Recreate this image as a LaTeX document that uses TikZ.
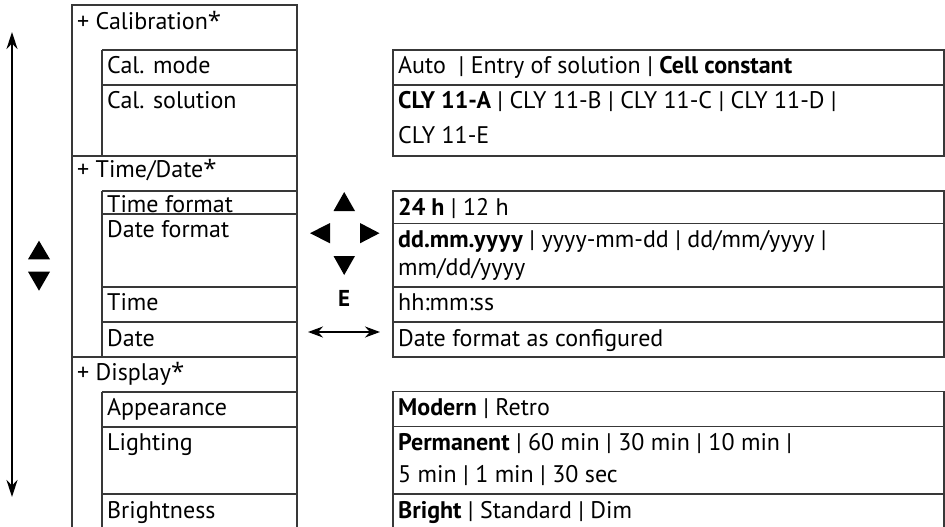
\documentclass[tikz,border=0pt]{standalone}
\usepackage{fontspec}
\setmainfont{PT Sans}
\newfontfamily\astfont{Open Sans}
\newcommand{\myast}{{\astfont *}}
\usetikzlibrary{arrows.meta}
\begin{document}
\begin{tikzpicture}[x=1pt,y=-1pt,
  grid/.style={draw=black!78,line width=1.1pt},
  txt/.style={anchor=base west,inner sep=0pt,font=\fontsize{24}{29}\selectfont},
  tri/.style={fill=black},
  dbl/.style={line width=1.6pt,{Stealth[length=15pt,width=11pt]}-{Stealth[length=15pt,width=11pt]}}]
\useasboundingbox (0,0) rectangle (945,527);

% left table
\draw[grid] (72,527) -- (72,5) -- (297,5) -- (297,527);
\draw[grid] (72,156) -- (297,156);
\draw[grid] (72,357) -- (297,357);
\draw[grid] (102,50) -- (102,156);
\draw[grid] (102,191) -- (102,357);
\draw[grid] (102,392) -- (102,527);
\foreach \y in {50,85,191,214,287,322,392,427,494} \draw[grid] (102,\y) -- (297,\y);

% right tables
\draw[grid] (393,50) rectangle (944,156);
\draw[grid] (393,85) -- (944,85);
\draw[grid] (393,191) rectangle (944,357);
\foreach \y in {223.3,287,322} \draw[grid] (393,\y) -- (944,\y);
\draw[grid] (393,527) -- (393,391.5) -- (944,391.5) -- (944,527);
\foreach \y in {426.7,494} \draw[grid] (393,\y) -- (944,\y);

% left texts
\node[txt] (hcal) at (77,29.3) {+ Calibration\myast};
\node[txt] (calmode) at (107,74) {Cal. mode};
\node[txt] (calsol) at (107,108.3) {Cal. solution};
\node[txt] (htd) at (77,177.7) {+ Time/Date\myast};
\node[txt] (tfmt) at (107,212.8) {Time format};
\node[txt] (dfmt) at (107,237.3) {Date format};
\node[txt] (time) at (107,310.7) {Time};
\node[txt] (date) at (107,346) {Date};
\node[txt] (hdisp) at (77,380) {+ Display\myast};
\node[txt] (appear) at (107,415) {Appearance};
\node[txt] (light) at (107,450.7) {Lighting};
\node[txt] (bright) at (107,518.3) {Brightness};

% right texts
\node[txt] (vmode) at (398,74) {Auto\ \ | Entry of solution | \textbf{Cell constant}};
\node[txt] (vsol1) at (398,108.3) {\textbf{CLY 11-A} | CLY 11-B | CLY 11-C | CLY 11-D |};
\node[txt] (vsol2) at (398,143.3) {CLY 11-E};
\node[txt] (vtf) at (398,215) {\textbf{24 h} | 12 h};
\node[txt] (vdf1) at (398,247) {\textbf{dd.mm.yyyy} | yyyy-mm-dd | dd/mm/yyyy |};
\node[txt] (vdf2) at (398,275.5) {mm/dd/yyyy};
\node[txt] (vtime) at (398,310.7) {hh:mm:ss};
\node[txt] (vdate) at (398,346) {Date format as configured};
\node[txt] (vapp) at (398,415) {\textbf{Modern} | Retro};
\node[txt] (vl1) at (398,450) {\textbf{Permanent} | 60 min | 30 min | 10 min |};
\node[txt] (vl2) at (398,482.7) {5 min | 1 min | 30 sec};
\node[txt] (vbr) at (398,518.3) {\textbf{Bright} | Standard | Dim};

% navigation symbols
\fill[tri] (333.5,211) -- (355,211) -- (344.2,192) -- cycle;
\fill[tri] (330,223) -- (330,243.3) -- (310,233.2) -- cycle;
\fill[tri] (360,223) -- (360,243.3) -- (379.5,233.2) -- cycle;
\fill[tri] (333.5,256) -- (355,256) -- (344.2,275) -- cycle;
\node[txt,anchor=base,font=\fontsize{23}{27}\selectfont\bfseries] (ekey) at (344.2,306.7) {E};
\coordinate (ma) at (308,332);
\coordinate (mb) at (380,332);
\draw[dbl] (ma) -- (mb);

% left scroll symbols
\fill[tri] (28,259.3) -- (50,259.3) -- (39,240.7) -- cycle;
\fill[tri] (28,271.7) -- (50,271.7) -- (39,290.7) -- cycle;
\coordinate (la) at (12,32);
\coordinate (lb) at (12,497);
\draw[dbl,{Stealth[length=17pt,width=11pt]}-{Stealth[length=17pt,width=11pt]}] (la) -- (lb);
\end{tikzpicture}
\end{document}
